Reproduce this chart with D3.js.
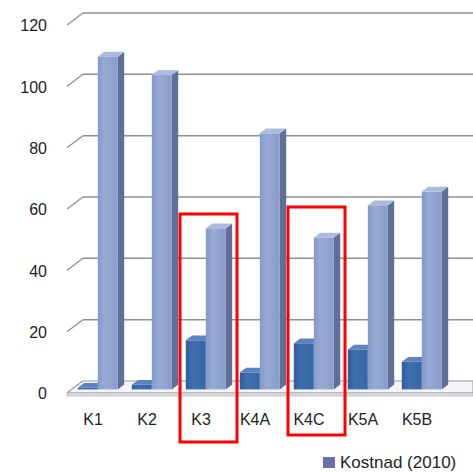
<!DOCTYPE html>
<html><head><meta charset="utf-8">
<script src="https://cdn.jsdelivr.net/npm/d3@7"></script>
<style>html,body{margin:0;padding:0;background:#fff;}svg{display:block;}</style>
</head><body>
<script>
const categories = ["K1","K2","K3","K4A","K4C","K5A","K5B"];
const seriesSmall = [0.5, 1.5, 16, 5.5, 15, 13, 9];
const seriesKostnad = [108.5, 102.5, 52.5, 83.5, 49.5, 60, 64.5];
const yTicks = [0, 20, 40, 60, 80, 100, 120];
const legendLabel = "Kostnad (2010)";
const highlighted = ["K3", "K4C"];

const W = 473, H = 472;
const DX = 16, DY = -12; // full depth offset
const font = "'Liberation Sans', Arial, sans-serif";

const svg = d3.select("body").append("svg").attr("width", W).attr("height", H);
const defs = svg.append("defs");
function grad(id, stops) {
  const g = defs.append("linearGradient").attr("id", id).attr("x1", "0").attr("x2", "1").attr("y1", "0").attr("y2", "0");
  stops.forEach(s => g.append("stop").attr("offset", s[0]).attr("stop-color", s[1]));
}
grad("gTall", [[0, "#8399c8"], [0.35, "#97aad5"], [1, "#889cca"]]);
grad("gSmall", [[0, "#2f5d9c"], [0.35, "#3f6fb0"], [1, "#3766a6"]]);

const x = d3.scaleBand().domain(categories).range([66, 66 + 54 * categories.length]).paddingInner(0).paddingOuter(0);
const y = d3.scaleLinear().domain([0, 120]).range([393, 25]);
const P = (px, py, d) => [px + d * DX, py + d * DY];

// back wall gridlines + left wall diagonals
const grid = svg.append("g");
yTicks.forEach(t => {
  const f = P(67, y(t), 0), b = P(67, y(t), 1);
  grid.append("line").attr("x1", f[0]).attr("y1", f[1]).attr("x2", b[0]).attr("y2", b[1])
    .attr("stroke", "#909090").attr("stroke-width", 1.3);
  if (t > 0) grid.append("line").attr("x1", b[0]).attr("y1", b[1]).attr("x2", W).attr("y2", b[1])
    .attr("stroke", "#909090").attr("stroke-width", 1.5);
});

// floor slab
const f0 = P(67, y(0), 0), b0 = P(67, y(0), 1);
svg.append("path").attr("d", `M${f0[0]},${f0[1]}L${b0[0]},${b0[1]}L${W},${b0[1]}L${W},${f0[1]}Z`)
  .attr("fill", "#f3f5f9").attr("stroke", "#9a9a9a").attr("stroke-width", 1);
svg.append("rect").attr("x", f0[0]).attr("y", f0[1]).attr("width", W - f0[0]).attr("height", 3)
  .attr("fill", "#d9dde5").attr("stroke", "#a8a8a8").attr("stroke-width", 0.6);

// bars
const d1 = 0.3, d2 = 0.7;
function bar3d(g, x0, w, v, fill, side, top) {
  const fx = x0 + d1 * DX, fy0 = y(0) + d1 * DY, fy1 = y(v) + d1 * DY;
  const ox = (d2 - d1) * DX, oy = (d2 - d1) * DY;
  g.append("path").attr("d", `M${fx + w},${fy0}L${fx + w + ox},${fy0 + oy}L${fx + w + ox},${fy1 + oy}L${fx + w},${fy1}Z`).attr("fill", side);
  g.append("path").attr("d", `M${fx},${fy1}L${fx + ox},${fy1 + oy}L${fx + w + ox},${fy1 + oy}L${fx + w},${fy1}Z`).attr("fill", top);
  g.append("rect").attr("x", fx).attr("y", fy1).attr("width", w).attr("height", fy0 - fy1).attr("fill", fill);
}
const bars = svg.append("g");
categories.forEach((c, i) => {
  const cx = x(c) + x.bandwidth() / 2;
  const g = bars.append("g");
  bar3d(g, cx - 20, 20, seriesSmall[i], "url(#gSmall)", "#2a4a7e", "#5a84c0");
  bar3d(g, cx, 20, seriesKostnad[i], "url(#gTall)", "#5f6f98", "#abbadd");
});

// y tick labels
svg.append("g").selectAll("text").data(yTicks).join("text")
  .attr("x", 47).attr("y", d => y(d) + 2).attr("text-anchor", "end").attr("dominant-baseline", "middle")
  .attr("font-family", font).attr("font-size", 16).attr("fill", "#222").text(d => d);

// category labels
svg.append("g").selectAll("text").data(categories).join("text")
  .attr("x", d => x(d) + x.bandwidth() / 2).attr("y", 425).attr("text-anchor", "middle")
  .attr("font-family", font).attr("font-size", 16).attr("fill", "#222").text(d => d);

// highlight boxes
const boxTop = {"K3": 214, "K4C": 207};
const boxBottom = {"K3": 442, "K4C": 435};
highlighted.forEach(c => {
  svg.append("rect").attr("x", x(c) + 6).attr("y", boxTop[c])
    .attr("width", x.bandwidth() + 3).attr("height", boxBottom[c] - boxTop[c])
    .attr("fill", "none").attr("stroke", "#ff0000").attr("stroke-width", 3);
});

// legend
svg.append("rect").attr("x", 323).attr("y", 457).attr("width", 12).attr("height", 11).attr("fill", "#6a70ae");
svg.append("text").attr("x", 340).attr("y", 468).attr("font-family", font).attr("font-size", 17)
  .attr("fill", "#222").text(legendLabel);
</script>
</body></html>
